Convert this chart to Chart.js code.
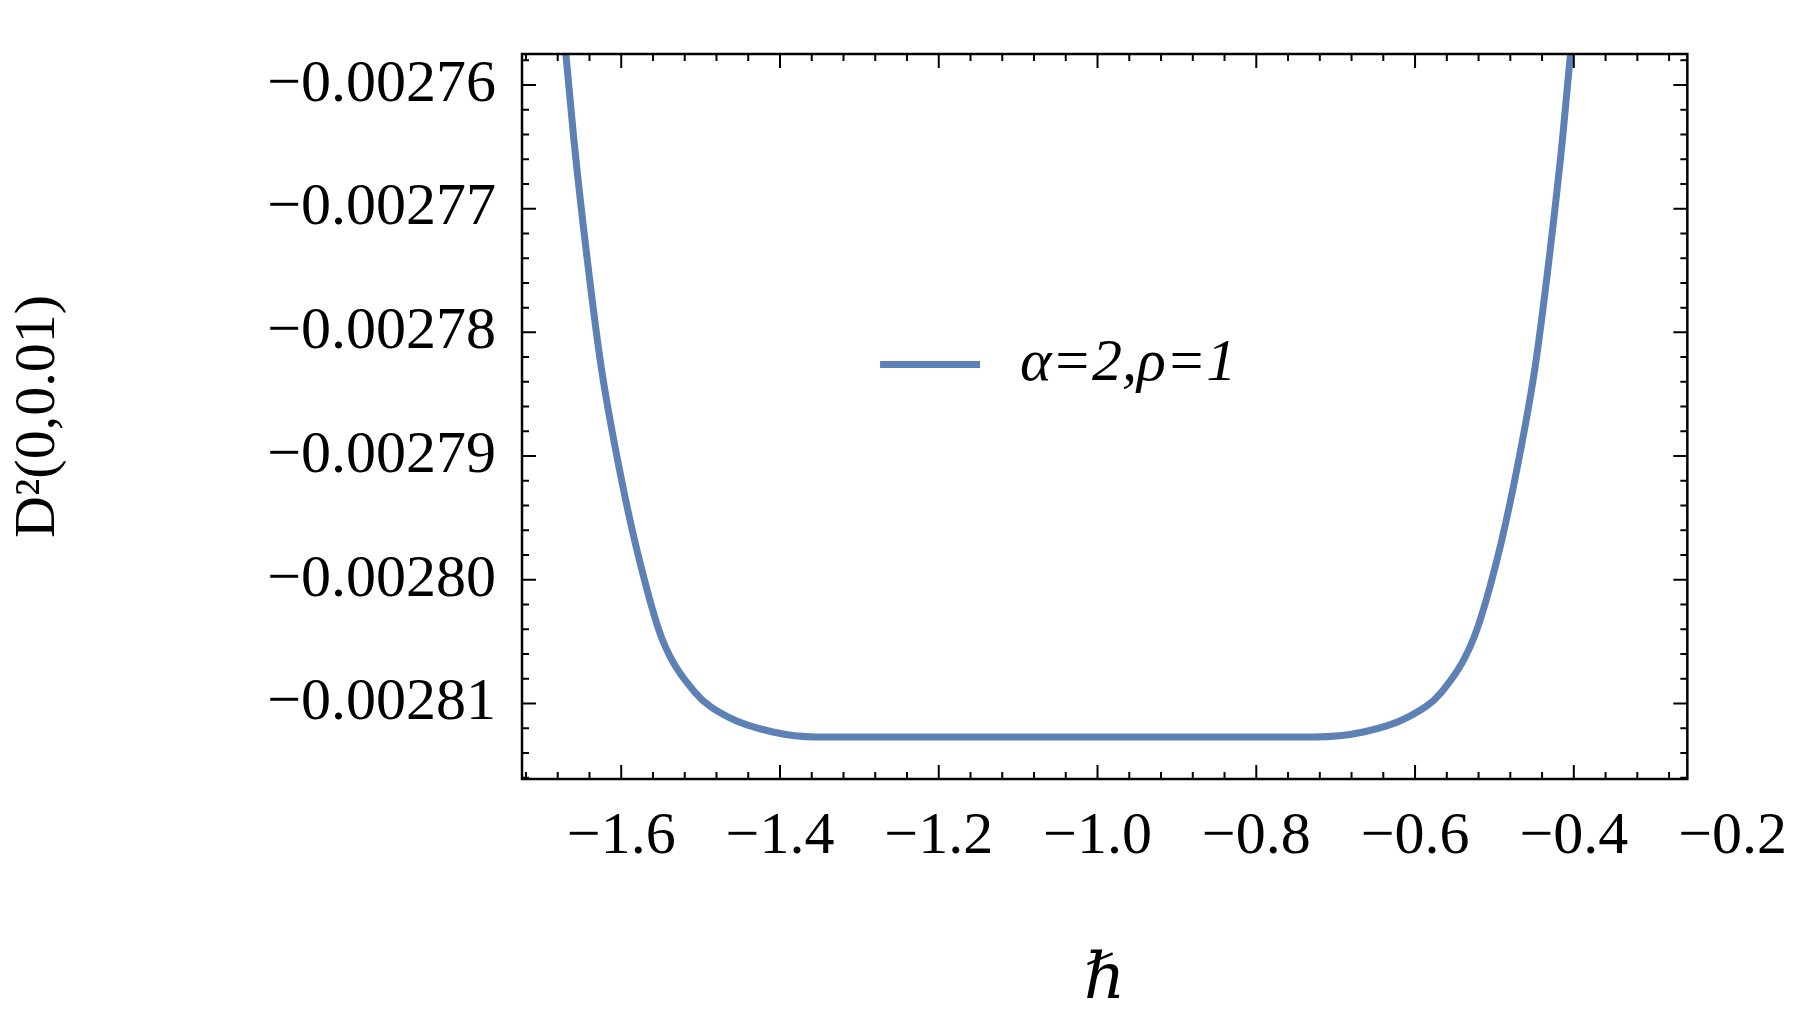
<!DOCTYPE html>
<html><head><meta charset="utf-8">
<script src="https://cdn.jsdelivr.net/npm/chart.js@4"></script>
<style>body{margin:0;background:#fff}canvas{display:block}</style>
</head><body>
<canvas id="c" width="1801" height="1024"></canvas>
<script>
const hbar = [-1.674,-1.660,-1.643,-1.625,-1.600,-1.576,-1.549,-1.507,-1.465,-1.409,-1.354,-1.037,-0.727,-0.665,-0.609,-0.567,-0.526,-0.498,-0.474,-0.449,-0.431,-0.414,-0.400];
const d2 = [-0.0027545,-0.0027642,-0.0027740,-0.0027829,-0.0027918,-0.0027987,-0.0028047,-0.0028091,-0.0028111,-0.0028123,-0.0028127,-0.0028127,-0.0028127,-0.0028123,-0.0028111,-0.0028091,-0.0028047,-0.0027987,-0.0027918,-0.0027829,-0.0027740,-0.0027642,-0.0027545];
const xTicks = [-1.6,-1.4,-1.2,-1.0,-0.8,-0.6,-0.4,-0.2];
const yTicks = [-0.00276,-0.00277,-0.00278,-0.00279,-0.00280,-0.00281];
const seriesName = 'α=2,ρ=1';
const blue = '#5e81b5';
const font = '"Liberation Serif", "DejaVu Serif", serif';

const frame = {
  id: 'frame',
  afterDraw(chart) {
    const {ctx, chartArea: a, scales: {x, y}} = chart;
    ctx.save();
    ctx.strokeStyle = '#000';
    ctx.lineWidth = 2.5;
    ctx.strokeRect(a.left, a.top, a.right - a.left, a.bottom - a.top);
    ctx.lineWidth = 2;
    const tick = (px, major, vert) => {
      const L = major ? 14 : 7;
      ctx.beginPath();
      if (vert) {
        ctx.moveTo(px, a.bottom); ctx.lineTo(px, a.bottom - L);
        ctx.moveTo(px, a.top); ctx.lineTo(px, a.top + L);
      } else {
        ctx.moveTo(a.left, px); ctx.lineTo(a.left + L, px);
        ctx.moveTo(a.right, px); ctx.lineTo(a.right - L, px);
      }
      ctx.stroke();
    };
    for (let v = -1.8; v <= 0; v += 0.04) {
      const p = x.getPixelForValue(v);
      if (p < a.left || p > a.right) continue;
      const major = Math.abs(Math.round(v / 0.2) * 0.2 - v) < 1e-6;
      tick(p, major, true);
    }
    for (let v = -0.00283; v <= -0.00274; v += 0.000002) {
      const p = y.getPixelForValue(v);
      if (p < a.top || p > a.bottom) continue;
      const major = Math.abs(Math.round(v / 0.00001) * 0.00001 - v) < 1e-9;
      tick(p, major, false);
    }
    // legend
    const lx = x.getPixelForValue(-1.148), ly = y.getPixelForValue(-0.0027826);
    ctx.strokeStyle = blue; ctx.lineWidth = 7;
    ctx.beginPath(); ctx.moveTo(lx - 100, ly); ctx.lineTo(lx, ly); ctx.stroke();
    ctx.fillStyle = '#000';
    ctx.font = 'italic 60px ' + font;
    ctx.textBaseline = 'middle';
    ctx.fillText(seriesName, lx + 40, ly);
    ctx.restore();
  }
};

new Chart(document.getElementById('c'), {
  type: 'line',
  data: { datasets: [{
    label: seriesName,
    data: hbar.map((v, i) => ({x: v, y: d2[i]})),
    borderColor: blue, borderWidth: 7, pointRadius: 0,
    cubicInterpolationMode: 'monotone', fill: false
  }]},
  options: {
    responsive: false, animation: false,
    layout: { padding: { top: 0, right: 0 } },
    plugins: { legend: { display: false }, tooltip: { enabled: false } },
    scales: {
      x: {
        type: 'linear', min: -1.725, max: -0.257,
        afterBuildTicks: s => { s.ticks = xTicks.map(v => ({value: v})); },
        afterFit: s => { s.height = 245; },
        grid: { display: false }, border: { display: false },
        ticks: { color: '#000', font: { family: font, size: 60 }, padding: 14, maxRotation: 0, autoSkip: false,
          callback: v => '−' + Math.abs(v).toFixed(1) },
        title: { display: true, text: 'ℏ', color: '#000', font: { family: font, size: 64, style: 'italic' }, padding: { top: 30 } }
      },
      y: {
        min: -0.0028161, max: -0.0027575,
        afterBuildTicks: s => { s.ticks = yTicks.map(v => ({value: v})); },
        afterFit: s => { s.width = 522; },
        grid: { display: false }, border: { display: false },
        ticks: { color: '#000', font: { family: font, size: 60 }, padding: 18, autoSkip: false,
          callback: v => '−' + Math.abs(v).toFixed(5) },
        title: { display: true, text: 'D²(0,0.01)', color: '#000', font: { family: font, size: 58 }, padding: { bottom: 6 } }
      }
    }
  },
  plugins: [frame]
});
</script>
</body></html>
